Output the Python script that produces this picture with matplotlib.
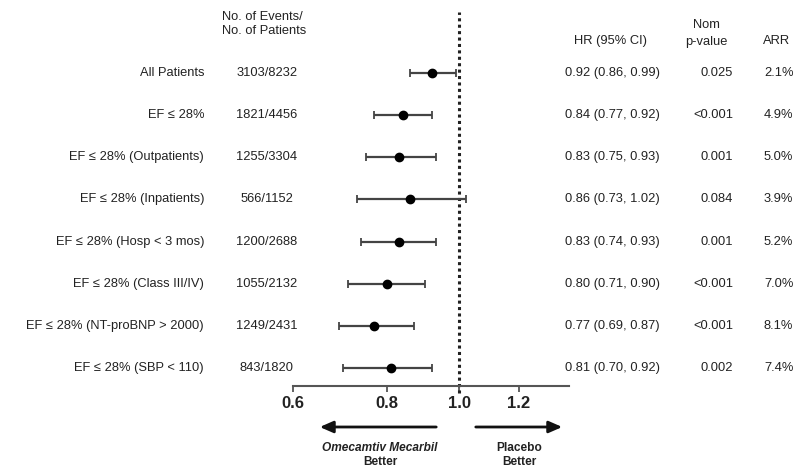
import matplotlib
matplotlib.use("Agg")
import matplotlib.pyplot as plt
from matplotlib.transforms import blended_transform_factory
import numpy as np

plt.rcParams['font.family'] = ['Liberation Sans', 'DejaVu Sans']

labels = ["All Patients", "EF ≤ 28%", "EF ≤ 28% (Outpatients)", "EF ≤ 28% (Inpatients)",
          "EF ≤ 28% (Hosp < 3 mos)", "EF ≤ 28% (Class III/IV)",
          "EF ≤ 28% (NT-proBNP > 2000)", "EF ≤ 28% (SBP < 110)"]
events = ["3103/8232", "1821/4456", "1255/3304", "566/1152", "1200/2688",
          "1055/2132", "1249/2431", "843/1820"]
hr = [0.92, 0.84, 0.83, 0.86, 0.83, 0.80, 0.77, 0.81]
lo = [0.86, 0.77, 0.75, 0.73, 0.74, 0.71, 0.69, 0.70]
hi = [0.99, 0.92, 0.93, 1.02, 0.93, 0.90, 0.87, 0.92]
pvals = ["0.025", "<0.001", "0.001", "0.084", "0.001", "<0.001", "<0.001", "0.002"]
arr = ["2.1%", "4.9%", "5.0%", "3.9%", "5.2%", "7.0%", "8.1%", "7.4%"]
xticks = [0.6, 0.8, 1.0, 1.2]
xtick_labels = ["0.6", "0.8", "1.0", "1.2"]

W, H = 795, 470
fig = plt.figure(figsize=(W / 100, H / 100), dpi=100)
fig.patch.set_facecolor("white")

# axes in pixel space
ax_l, ax_r, ax_t, ax_b = 293, 569, 12, 386
ax = fig.add_axes([ax_l / W, 1 - ax_b / H, (ax_r - ax_l) / W, (ax_b - ax_t) / H])
ax.set_xscale("log")
ax.set_xlim(0.6, 1.4)
row0, dy = 73, 42.14
ax.set_ylim((ax_b - row0) / dy, (ax_t - row0) / dy)

ypos = np.arange(len(labels))
hr_a, lo_a, hi_a = np.array(hr), np.array(lo), np.array(hi)
ax.errorbar(hr_a, ypos, xerr=[hr_a - lo_a, hi_a - hr_a], fmt="o", color="black",
            ecolor="#444444", elinewidth=1.6, capsize=3, capthick=1.3,
            markersize=6, zorder=3)
ax.axvline(1.0, color="#222222", linestyle=(0, (1, 1.1)), linewidth=2.2,
           ymin=-0.018, clip_on=False, zorder=2)

for s in ["top", "right", "left"]:
    ax.spines[s].set_visible(False)
ax.spines["bottom"].set_color("#555555")
ax.spines["bottom"].set_linewidth(1.5)
ax.set_yticks([])
ax.minorticks_off()
ax.set_xticks(xticks)
ax.set_xticklabels(xtick_labels, fontsize=12, fontweight="bold", color="#222222")
ax.tick_params(axis="x", length=4, width=1.3, color="#555555", pad=3)
ax.patch.set_alpha(0)

tr = blended_transform_factory(fig.transFigure, ax.transData)
tc = "#222222"
fs = 9.3
for i in range(len(labels)):
    ax.text(204 / W, i, labels[i], transform=tr, ha="right", va="center", fontsize=fs, color=tc)
    ax.text(267 / W, i, events[i], transform=tr, ha="center", va="center", fontsize=fs, color=tc)
    ax.text(565 / W, i, f"{hr[i]:.2f} ({lo[i]:.2f}, {hi[i]:.2f})", transform=tr,
            ha="left", va="center", fontsize=fs, color=tc)
    ax.text(733 / W, i, pvals[i], transform=tr, ha="right", va="center", fontsize=fs, color=tc)
    ax.text(764 / W, i, arr[i], transform=tr, ha="left", va="center", fontsize=fs, color=tc)

def ftext(x, y, s, **kw):
    fig.text(x / W, 1 - y / H, s, **kw)

ftext(222, 17, "No. of Events/", ha="left", va="center", fontsize=fs, color=tc)
ftext(222, 31, "No. of Patients", ha="left", va="center", fontsize=fs, color=tc)
ftext(610, 41, "HR (95% CI)", ha="center", va="center", fontsize=fs, color=tc)
ftext(706, 25, "Nom", ha="center", va="center", fontsize=fs, color=tc)
ftext(706, 42, "p-value", ha="center", va="center", fontsize=fs, color=tc)
ftext(777, 41, "ARR", ha="center", va="center", fontsize=fs, color=tc)

# direction arrows
ay = 1 - 427 / H
for x0, x1 in [(439, 317), (473, 565)]:
    fig.add_artist(matplotlib.patches.FancyArrowPatch((x0 / W, ay), (x1 / W, ay),
                   transform=fig.transFigure, arrowstyle="-|>,head_length=8,head_width=3.5",
                   color="#111111", linewidth=2.0, mutation_scale=1))
bfs = 8.6
ftext(380, 448, "Omecamtiv Mecarbil", ha="center", va="center", fontsize=bfs,
      fontweight="bold", fontstyle="italic", color=tc)
ftext(380, 462, "Better", ha="center", va="center", fontsize=bfs, fontweight="bold", color=tc)
ftext(519, 448, "Placebo", ha="center", va="center", fontsize=bfs, fontweight="bold", color=tc)
ftext(519, 462, "Better", ha="center", va="center", fontsize=bfs, fontweight="bold", color=tc)

fig.savefig("out.png", dpi=100, facecolor="white")
